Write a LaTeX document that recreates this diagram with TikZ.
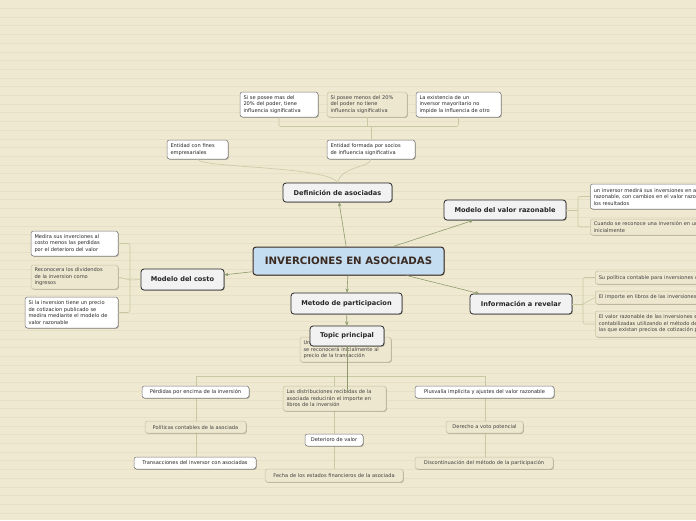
\documentclass[tikz,border=0pt]{standalone}
\usepackage{fontspec}
\setmainfont{DejaVu Sans}
\usetikzlibrary{arrows.meta,shadows}
\definecolor{bgc}{HTML}{EFE9D2}
\definecolor{bgl}{HTML}{E7E0C7}
\definecolor{arrc}{HTML}{8C9C6C}
\definecolor{brc}{HTML}{C8C9A3}
\definecolor{beigef}{HTML}{EEE7CF}
\definecolor{beiged}{HTML}{C9C1A0}
\definecolor{centf}{HTML}{C5DDF0}
\definecolor{centd}{HTML}{3B2A22}
\tikzset{
  x=1pt,y=-1pt,
  shad/.style={drop shadow={shadow xshift=0.8pt,shadow yshift=-0.8pt,opacity=0.25,fill=black}},
  maintopic/.style={draw=black!85,line width=0.8pt,fill=black!5,rounded corners=3pt,shad,
    font=\bfseries\fontsize{6.6}{7.5}\selectfont,text=black!85,inner sep=0pt},
  centraltopic/.style={draw=centd,line width=1pt,fill=centf,rounded corners=3pt,shad,
    font=\bfseries\fontsize{10.2}{11}\selectfont,text=centd,inner sep=0pt},
  wbox/.style={draw=black!55,line width=0.5pt,fill=white,rounded corners=2.5pt,shad,
    font=\fontsize{5.1}{6.5}\selectfont,text=black!85,align=left,inner xsep=3.5pt,inner ysep=0pt},
  bbox/.style={draw=beiged,line width=0.5pt,fill=beigef,rounded corners=2.5pt,shad,
    font=\fontsize{5.1}{6.5}\selectfont,text=black!75,align=left,inner xsep=3.5pt,inner ysep=0pt},
  arr/.style={draw=arrc,line width=0.6pt,-{Stealth[length=4pt,width=3.5pt]}},
  grn/.style={draw=arrc,line width=0.6pt},
  brl/.style={draw=brc,line width=0.6pt},
}
\begin{document}
\begin{tikzpicture}
\useasboundingbox (0,0) rectangle (696,520);
\fill[bgc] (0,0) rectangle (696,520);
\foreach \i in {0,...,60}{\draw[bgl,line width=0.5pt] (0,8.3+8.7*\i) -- (696,8.3+8.7*\i);}

% coordinates for branches
\coordinate (dj) at (371,126.5);
\coordinate (mcj) at (130,280);
\coordinate (mvrj) at (578,210);
\coordinate (irj) at (583,304);
\coordinate (tl) at (196,376);
\coordinate (tm) at (334,376);
\coordinate (tr) at (485,376);
\coordinate (tlb) at (196,463);
\coordinate (tmb) at (334,475);
\coordinate (trb) at (485,463);
\coordinate (tpend) at (347,392);

% tree lines under topic principal
\draw[brl] (tl) -- (tr);
\draw[brl] (tl) -- (tlb);
\draw[brl] (tm) -- (tmb);
\draw[brl] (tr) -- (trb);

% nodes
\node[centraltopic,minimum width=191,minimum height=28] (cen) at (348.5,261) {INVERCIONES EN ASOCIADAS};
\node[maintopic,minimum width=109,minimum height=19] (def) at (337.5,192.5) {Definición de asociadas};
\node[maintopic,minimum width=122,minimum height=20] (mvr) at (505,210) {Modelo del valor razonable};
\node[maintopic,minimum width=83,minimum height=21] (mc) at (182.5,279.5) {Modelo del costo};
\node[maintopic,minimum width=111,minimum height=21] (mp) at (346.5,303.5) {Metodo de participacion};
\node[maintopic,minimum width=102,minimum height=20] (ir) at (521,304) {Información a revelar};

\node[wbox,minimum width=78,minimum height=25,text width=71] (s1) at (279,104.5) {Si se posee mas del\\20\% del poder, tiene\\influencia significativa};
\node[bbox,minimum width=80,minimum height=25,text width=73] (s2) at (367,104.5) {Si posee menos del 20\%\\del poder no tiene\\influencia significativa};
\node[wbox,minimum width=85,minimum height=25,text width=78] (s3) at (458.5,104.5) {La existencia de un\\inversor mayoritario no\\impide la influencia de otro};
\node[wbox,minimum width=61,minimum height=19,text width=54] (e1) at (197.5,149.5) {Entidad con fines\\empresariales};
\node[wbox,minimum width=88,minimum height=19,text width=81] (e2) at (371,149.5) {Entidad formada por socios\\de influencia significativa};

\node[wbox,anchor=west,minimum height=25,text width=190] (v1) at (590,196.5) {un inversor medirá sus inversiones en asociadas al valor\\razonable, con cambios en el valor razonable en\\los resultados};
\node[bbox,anchor=west,minimum height=16,text width=190] (v2) at (590,227) {Cuando se reconoce una inversión en una asociada\\inicialmente};

\node[bbox,anchor=west,minimum height=13,text width=190] (i1) at (595,277.5) {Su política contable para inversiones en asociadas};
\node[bbox,anchor=west,minimum height=13,text width=190] (i2) at (595,297.5) {El importe en libros de las inversiones en asociadas};
\node[bbox,anchor=west,minimum height=26,text width=190] (i3) at (595,324) {El valor razonable de las inversiones en asociadas\\contabilizadas utilizando el método de la participación\\las que existan precios de cotización publicados};

\node[wbox,minimum width=87,minimum height=25,text width=80] (c1) at (74.5,243.5) {Medira sus inverciones al\\costo menos las perdidas\\por el deterioro del valor};
\node[bbox,minimum width=87,minimum height=24,text width=80] (c2) at (74.5,277) {Reconocera los dividendos\\de la inversion como\\ingresos};
\node[wbox,minimum width=93,minimum height=31,text width=86] (c3) at (71.5,312.5) {Si la inversion tiene un precio\\de cotizacion publicado se\\medira mediante el modelo de\\valor razonable};

\node[bbox,minimum width=91,minimum height=25,text width=84] (u) at (345.5,349.5) {Una inversión en una asociada\\se reconocerá inicialmente al\\precio de la transacción};

\node[wbox,minimum width=107,minimum height=12] (g1) at (195.5,392) {Pérdidas por encima de la inversión};
\node[bbox,minimum width=101,minimum height=12] (g2) at (195.5,427) {Políticas contables de la asociada};
\node[wbox,minimum width=122,minimum height=12] (g3) at (195,463) {Transacciones del inversor con asociadas};
\node[bbox,minimum width=103,minimum height=25,text width=96] (g4) at (334.5,398.5) {Las distribuciones recibidas de la\\asociada reducirán el importe en\\libros de la inversión};
\node[wbox,minimum width=58,minimum height=12] (g5) at (334,440) {Deterioro de valor};
\node[bbox,minimum width=138,minimum height=13] (g6) at (334,475.5) {Fecha de los estados financieros de la asociada};
\node[wbox,minimum width=139,minimum height=12] (g7) at (484.5,392) {Plusvalía implícita y ajustes del valor razonable};
\node[bbox,minimum width=77,minimum height=12] (g8) at (484.5,427) {Derecho a voto potencial};
\node[bbox,minimum width=138,minimum height=12] (g9) at (484,463) {Discontinuación del método de la participación};

% branch connectors
\draw[brl] (e2.north) -- (dj);
\draw[brl,rounded corners=2pt] (dj) -| (s1.south);
\draw[brl] (s2.south) -- (s2.south |- dj);
\draw[brl,rounded corners=2pt] (dj) -| (s3.south);
\draw[brl] (e1.south) .. controls (200,168) and (328,166) .. (def.north);
\draw[brl] (e2.south) .. controls (369,168) and (342,166) .. (def.north);

\draw[brl] (mc.west) -- (mcj);
\draw[brl,rounded corners=2pt] (mcj) |- (c1.east);
\draw[brl] (mcj) -- (c2.east);
\draw[brl,rounded corners=2pt] (mcj) |- (c3.east);

\draw[brl] (mvr.east) -- (mvrj);
\draw[brl,rounded corners=2pt] (mvrj) |- (v1.west);
\draw[brl,rounded corners=2pt] (mvrj) |- (v2.west);

\draw[brl] (ir.east) -- (irj);
\draw[brl,rounded corners=2pt] (irj) |- (i1.west);
\draw[brl] (irj) -- (i2.west);
\draw[brl,rounded corners=2pt] (irj) |- (i3.west);

% main arrows
\draw[arr] (cen) -- (def);
\draw[arr] (cen) -- (mvr);
\draw[arr] (cen) -- (mc);
\draw[arr] (cen) -- (mp);
\draw[arr] (cen) -- (ir);

\node[maintopic,minimum width=74,minimum height=20] (tp) at (347,336) {Topic principal};
\draw[arr] (mp) -- (tp);
\draw[grn] (tp.south) -- (tpend);
\end{tikzpicture}
\end{document}
